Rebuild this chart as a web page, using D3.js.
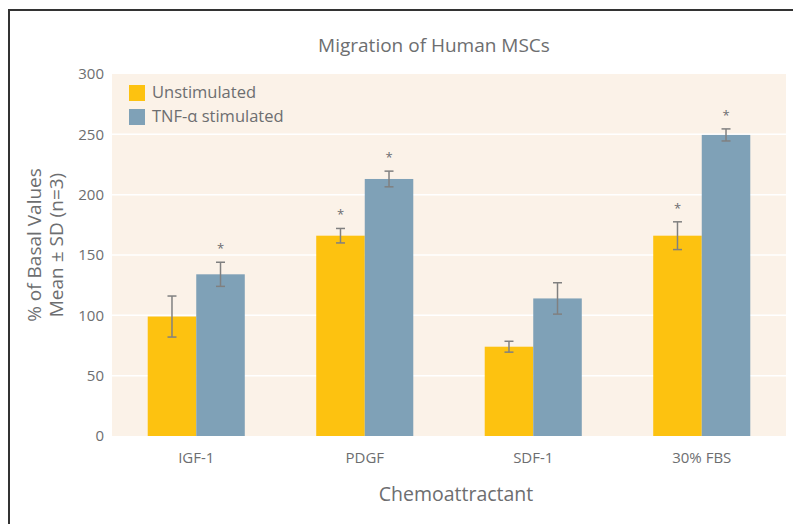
<!DOCTYPE html>
<html>
<head>
<meta charset="utf-8">
<script src="https://cdn.jsdelivr.net/npm/d3@7"></script>
<style>
  body { margin: 0; background: #fff; }
  text { font-family: "Open Sans", "Noto Sans", sans-serif; fill: #6d6e70; }
</style>
</head>
<body>
<div id="chart"></div>
<script>
// data
var categories = ["IGF-1", "PDGF", "SDF-1", "30% FBS"];
var seriesNames = ["Unstimulated", "TNF-\u03b1 stimulated"];
var unstimMean = [99, 166, 74, 166];
var unstimSD = [17, 6, 4.5, 11.5];
var tnfMean = [134, 213, 114, 249.5];
var tnfSD = [10, 6.5, 13, 5];
var unstimSig = [false, true, false, true];
var tnfSig = [true, true, false, true];
var yTicks = [0, 50, 100, 150, 200, 250, 300];

var colors = ["#fdc210", "#7fa1b7"];

var w = 793, h = 524;
var pLeft = 112, pRight = 786, pTop = 74, pBottom = 436;

var svg = d3.select("#chart").append("svg").attr("width", w).attr("height", h);

// frame (runs off the right and bottom edge)
svg.append("rect").attr("x", 9).attr("y", 10).attr("width", 820).attr("height", 560)
   .attr("fill", "none").attr("stroke", "#333").attr("stroke-width", 2);

var rows = categories.map(function(c, i) {
  return { cat: c, vals: [
    { s: 0, mean: unstimMean[i], sd: unstimSD[i], sig: unstimSig[i] },
    { s: 1, mean: tnfMean[i], sd: tnfSD[i], sig: tnfSig[i] }
  ]};
});

var x0 = d3.scaleBand().domain(categories).range([pLeft, pRight]).paddingInner(0.424).paddingOuter(0.212);
var x1 = d3.scaleBand().domain([0, 1]).range([0, x0.bandwidth()]);
var y = d3.scaleLinear().domain([0, 300]).range([pBottom, pTop]);

// plot background
svg.append("rect").attr("x", pLeft).attr("y", pTop).attr("width", pRight - pLeft).attr("height", pBottom - pTop)
   .attr("fill", "#fbf2e8");

// gridlines
svg.append("g").selectAll("line").data(yTicks.slice(1, -1)).enter().append("line")
   .attr("x1", pLeft).attr("x2", pRight)
   .attr("y1", function(d) { return y(d); }).attr("y2", function(d) { return y(d); })
   .attr("stroke", "#fff").attr("stroke-width", 1.5);

// y axis
var yaxis = d3.axisLeft(y).tickValues(yTicks).tickSize(0).tickPadding(8);
var gy = svg.append("g").attr("transform", "translate(" + pLeft + ",0)").call(yaxis);
gy.select(".domain").remove();
gy.selectAll("text").style("font-size", "15px").attr("fill", "#6d6e70");

// x axis
var xaxis = d3.axisBottom(x0).tickSize(0).tickPadding(16);
var gx = svg.append("g").attr("transform", "translate(0," + pBottom + ")").call(xaxis);
gx.select(".domain").remove();
gx.selectAll("text").style("font-size", "15px").attr("fill", "#6d6e70");

// bars
var groups = svg.append("g").selectAll("g").data(rows).enter().append("g")
   .attr("transform", function(d) { return "translate(" + x0(d.cat) + ",0)"; });

groups.selectAll("rect").data(function(d) { return d.vals; }).enter().append("rect")
   .attr("x", function(d) { return x1(d.s); })
   .attr("width", x1.bandwidth())
   .attr("y", function(d) { return y(d.mean); })
   .attr("height", function(d) { return pBottom - y(d.mean); })
   .attr("fill", function(d) { return colors[d.s]; });

// error bars
var eb = groups.selectAll("g.err").data(function(d) { return d.vals; }).enter().append("g").attr("class", "err")
   .attr("transform", function(d) { return "translate(" + (x1(d.s) + x1.bandwidth() / 2) + ",0)"; });
eb.append("line").attr("x1", 0).attr("x2", 0)
   .attr("y1", function(d) { return y(d.mean + d.sd); }).attr("y2", function(d) { return y(d.mean - d.sd); });
eb.append("line").attr("x1", -4.5).attr("x2", 4.5)
   .attr("y1", function(d) { return y(d.mean + d.sd); }).attr("y2", function(d) { return y(d.mean + d.sd); });
eb.append("line").attr("x1", -4.5).attr("x2", 4.5)
   .attr("y1", function(d) { return y(d.mean - d.sd); }).attr("y2", function(d) { return y(d.mean - d.sd); });
eb.selectAll("line").attr("stroke", "#808080").attr("stroke-width", 1.5);

// significance stars
eb.filter(function(d) { return d.sig; }).append("text")
   .attr("x", 0).attr("y", function(d) { return y(d.mean + d.sd) - 9; })
   .attr("text-anchor", "middle").style("font-size", "13px").attr("fill", "#888")
   .text("*");

// title
svg.append("text").attr("x", 434).attr("y", 52).attr("text-anchor", "middle")
   .style("font-size", "19px").text("Migration of Human MSCs");

// axis titles
svg.append("text").attr("x", 456).attr("y", 501).attr("text-anchor", "middle")
   .style("font-size", "19.5px").text("Chemoattractant");
var yt = svg.append("text").attr("transform", "translate(41,245) rotate(-90)")
   .attr("text-anchor", "middle").style("font-size", "19px");
yt.append("tspan").attr("x", 0).attr("y", 0).text("% of Basal Values");
yt.append("tspan").attr("x", 0).attr("y", 22).text("Mean \u00b1 SD (n=3)");

// legend
var legend = svg.append("g").selectAll("g").data(seriesNames).enter().append("g")
   .attr("transform", function(d, i) { return "translate(129," + (85 + i * 24) + ")"; });
legend.append("rect").attr("width", 16).attr("height", 16).attr("fill", function(d, i) { return colors[i]; });
legend.append("text").attr("x", 23).attr("y", 13).style("font-size", "16.5px").text(function(d) { return d; });
</script>
</body>
</html>
